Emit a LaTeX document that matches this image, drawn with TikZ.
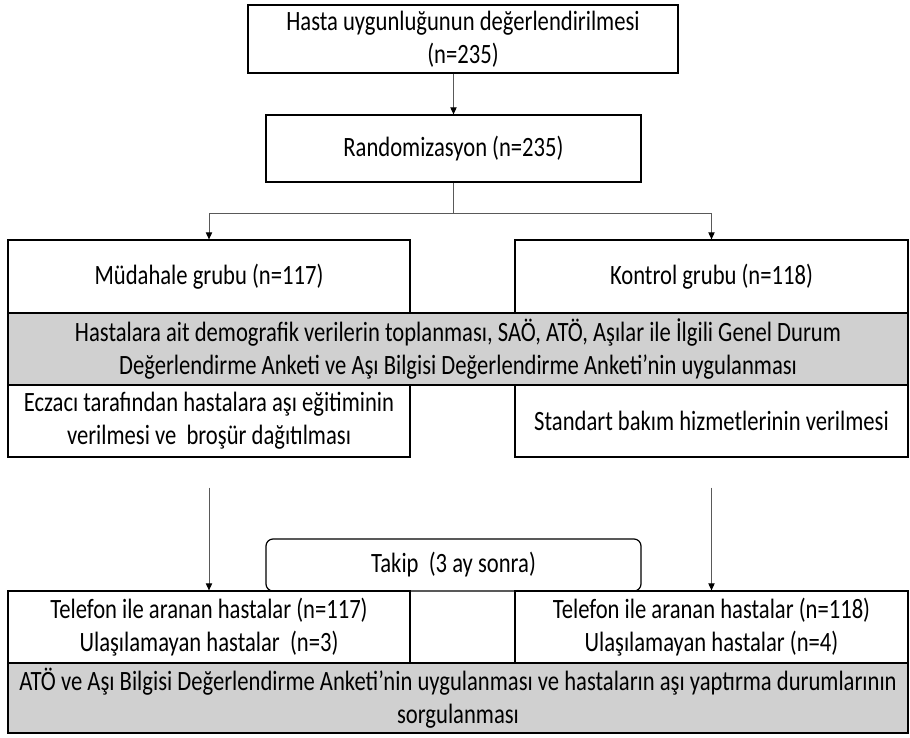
\documentclass[tikz,border=0pt]{standalone}
\usepackage{fontspec}
\setmainfont{Carlito}[FakeStretch=0.81]
\usepackage{xcolor}
\usepackage{tikz}
\usetikzlibrary{
    positioning,
    arrows.meta
}

\definecolor{boxgray}{RGB}{208,208,208}

\begin{document}
\begin{tikzpicture}[
        box/.style={draw, line width=0.7pt, align=center, inner sep=0pt, font=\fontsize{15.9}{19}\selectfont},
        shaded/.style={box, fill=boxgray},
        arr/.style={draw=black!65, line width=0.5pt, -{Triangle[length=4pt, width=3.6pt, black]}},
        link/.style={draw=black!65, line width=0.5pt}
      ]
      \useasboundingbox (0,0) rectangle (18.2,-14.76);

      \node[box, minimum width=8.6cm, minimum height=1.36cm] (uygun) at (9.26,-0.78) {Hasta uygunluğunun değerlendirilmesi\\(n=235)};
      \node[box, minimum width=7.5cm, minimum height=1.34cm] (rand) at (9.07,-2.97) {Randomizasyon (n=235)};

      \node[box, minimum width=8.04cm, minimum height=1.46cm] (mud) at (4.18,-5.53) {Müdahale grubu (n=117)};
      \node[box, minimum width=7.86cm, minimum height=1.46cm] (kon) at (14.23,-5.53) {Kontrol grubu (n=118)};

      \node[shaded, minimum width=18cm, minimum height=1.44cm] (anket) at (9.16,-6.98) {Hastalara ait demografik verilerin toplanması, SAÖ, ATÖ, Aşılar ile İlgili Genel Durum\\Değerlendirme Anketi ve Aşı Bilgisi Değerlendirme Anketi’nin uygulanması};

      \node[box, minimum width=8.04cm, minimum height=1.44cm] (egitim) at (4.18,-8.42) {Eczacı tarafından hastalara aşı eğitiminin\\verilmesi ve~ broşür dağıtılması};
      \node[box, minimum width=7.86cm, minimum height=1.44cm] (bakim) at (14.23,-8.42) {Standart bakım hizmetlerinin verilmesi};

      \node[box, rounded corners=4pt, minimum width=7.5cm, minimum height=1.04cm] (takip) at (9.07,-11.30) {Takip~ (3 ay sonra)};

      \node[box, minimum width=8.04cm, minimum height=1.44cm] (tel1) at (4.18,-12.54) {Telefon ile aranan hastalar (n=117)\\Ulaşılamayan hastalar~ (n=3)};
      \node[box, minimum width=7.86cm, minimum height=1.44cm] (tel2) at (14.23,-12.54) {Telefon ile aranan hastalar (n=118)\\Ulaşılamayan hastalar (n=4)};

      \node[shaded, minimum width=18cm, minimum height=1.40cm] (sorgu) at (9.16,-13.96) {ATÖ ve Aşı Bilgisi Değerlendirme Anketi’nin uygulanması ve hastaların aşı yaptırma durumlarının\\sorgulanması};

      % connectors
      \draw[arr] (uygun.south -| rand) -- (rand.north);
      \draw[link] (rand.south) -- ++(0,-0.62) coordinate (split);
      \draw[arr] (split) -| (mud.north);
      \draw[arr] (split) -| (kon.north);
      \draw[arr] ([yshift=-0.6cm]egitim.south) -- (tel1.north);
      \draw[arr] ([yshift=-0.6cm]bakim.south) -- (tel2.north);
    \end{tikzpicture}
\end{document}
